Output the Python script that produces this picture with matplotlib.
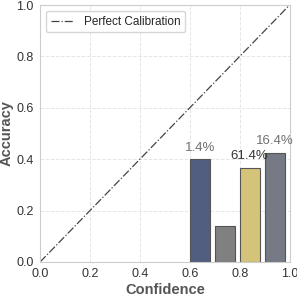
import numpy as np
import matplotlib.pyplot as plt
import seaborn as sns

sns.set_style("whitegrid")
plt.rcParams['font.family'] = ['Liberation Sans', 'DejaVu Sans']

bin_left = [0.6, 0.7, 0.8, 0.9]
accuracy = [0.40, 0.14, 0.366, 0.424]
colors = ['#525e80', '#808080', '#d4c47a', '#757a85']
pct_labels = ['1.4%', '', '61.4%', '16.4%']
label_colors = ['#707070', '#707070', '#333333', '#707070']

fig = plt.figure(figsize=(2.97, 2.97), dpi=100)
ax = fig.add_axes([0.135, 0.118, 0.84, 0.865])

ax.plot([0, 1], [0, 1], linestyle='-.', color='#444444', linewidth=0.9, label='Perfect Calibration')
ax.bar(bin_left, accuracy, width=0.083, align='edge', color=colors, edgecolor='#555555', linewidth=0.8)

for x, y, t, c in zip(bin_left, accuracy, pct_labels, label_colors):
    if t:
        ax.text(x + 0.04, y + 0.022, t, ha='center', va='bottom', fontsize=9.5, color=c)

ax.set_xlim(0, 1)
ax.set_ylim(0, 1)
ax.set_xticks(np.arange(0, 1.01, 0.2))
ax.set_yticks(np.arange(0, 1.01, 0.2))
ax.tick_params(labelsize=9, colors='#333333', pad=1)
ax.grid(True, linestyle='--', color='#e6e6e6', linewidth=0.7)
for s in ax.spines.values():
    s.set_color('#cccccc')
ax.set_xlabel('Confidence', fontsize=10.5, fontweight='bold', color='#555555', labelpad=2)
ax.set_ylabel('Accuracy', fontsize=10.5, fontweight='bold', color='#555555', labelpad=2)
ax.legend(loc='upper left', fontsize=8.5, frameon=True)

fig.savefig('out.png', dpi=100)
